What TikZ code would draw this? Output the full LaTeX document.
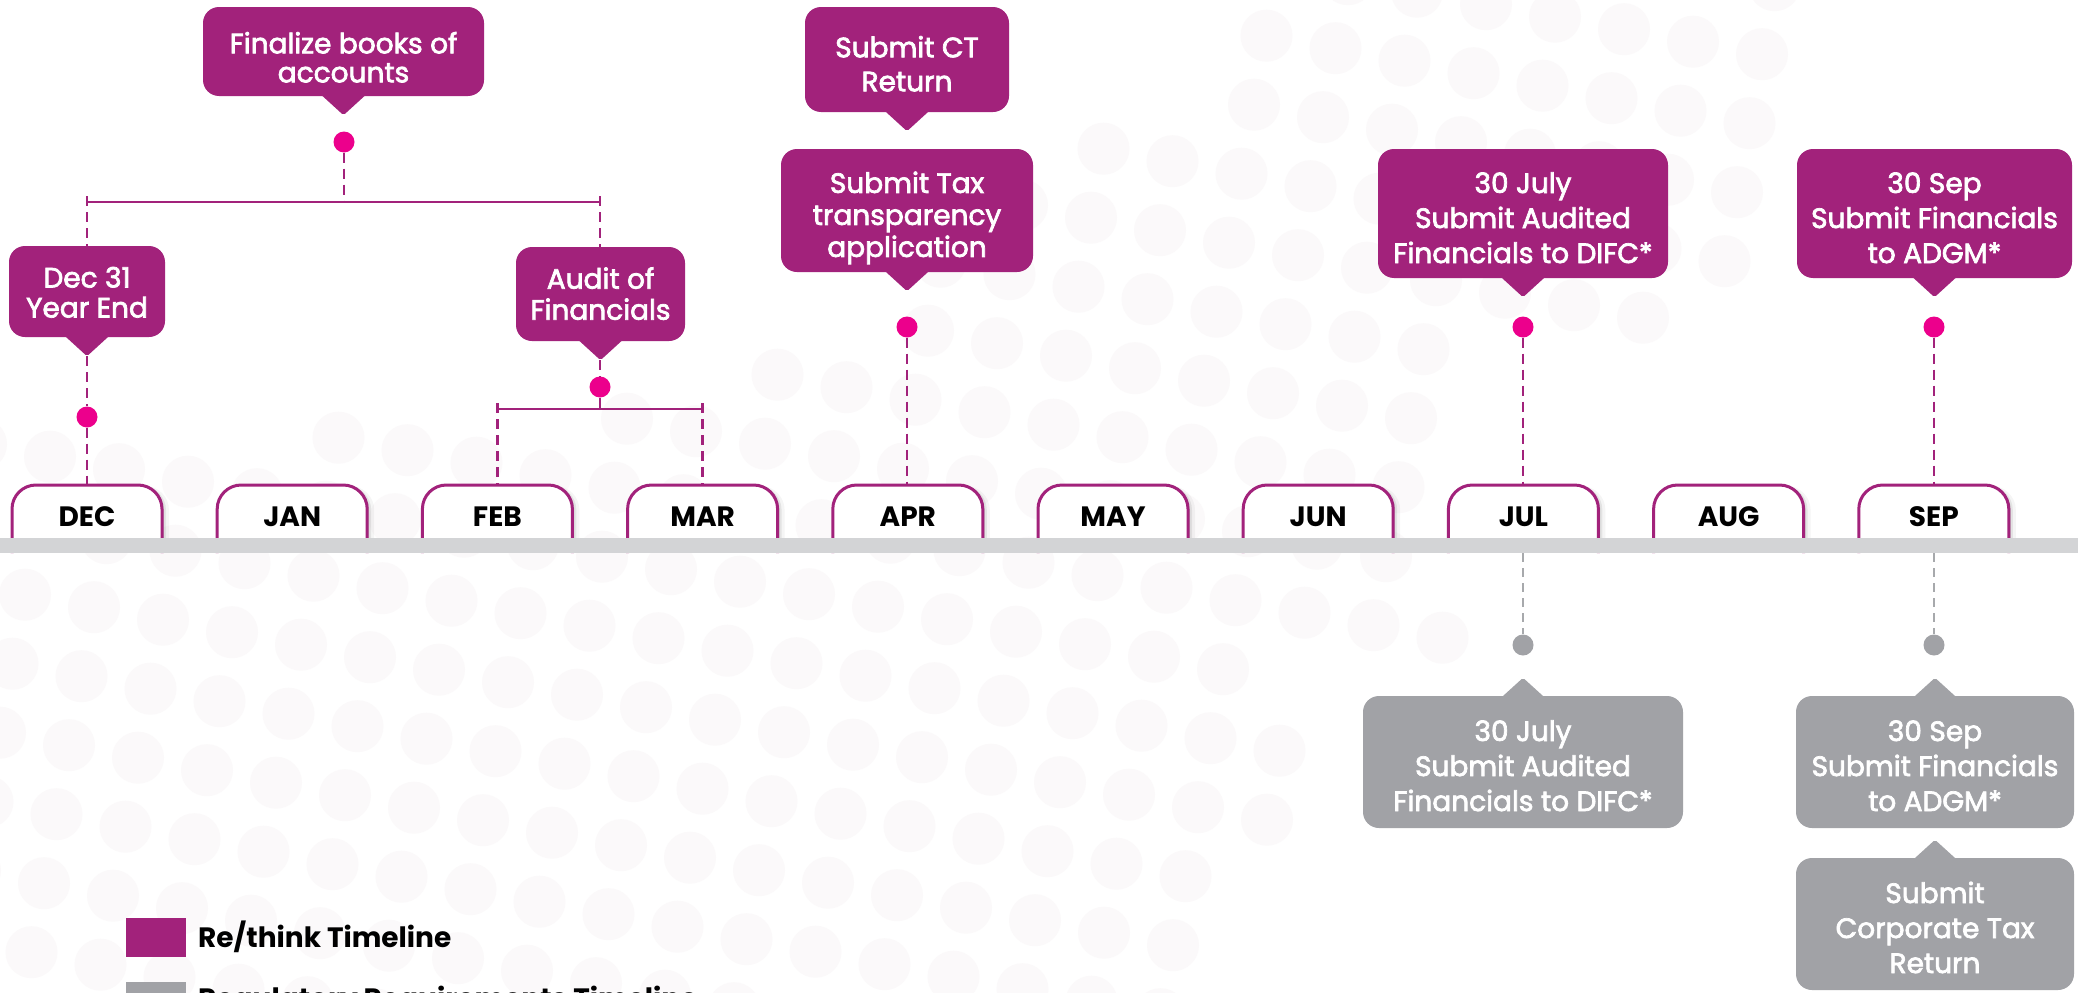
\documentclass[tikz,border=0pt]{standalone}
\usepackage{fontspec}
\setmainfont{Poppins}
\newfontfamily\boxfont{Poppins}[FakeBold=2.5]
\usetikzlibrary{calc}
\definecolor{rpurple}{RGB}{162,34,123}
\definecolor{rpink}{RGB}{236,0,140}
\definecolor{rgray}{RGB}{161,162,166}
\definecolor{bargray}{RGB}{211,212,214}
\definecolor{bgdot}{RGB}{251,249,250}
\definecolor{dashgray}{RGB}{167,169,172}
\newcommand\mybt[2]{\raisebox{-#1pt}[\height][\depth]{\begin{tabular}{@{}c@{}}#2\end{tabular}}}
\newcommand\mydownptr[2]{%
  \fill[#2,rounded corners=2pt] ($(#1.south)+(-23,-2)$) -- ($(#1.south)+(23,-2)$) -- ($(#1.south)+(0,19)$) -- cycle;
  \coordinate (#1tip) at ($(#1.south)+(0,19)$);}
\newcommand\myupptr[2]{%
  \fill[#2,rounded corners=2pt] ($(#1.north)+(-22,2)$) -- ($(#1.north)+(22,2)$) -- ($(#1.north)+(0,-18)$) -- cycle;
  \coordinate (#1tip) at ($(#1.north)+(0,-18)$);}
\begin{document}
\begin{tikzpicture}[x=1pt,y=-1pt,
  pbox/.style={fill=rpurple, rounded corners=16pt, inner sep=0pt, text=white},
  gbox/.style={fill=rgray, rounded corners=16pt, inner sep=0pt, text=white},
  bfnt/.style={font=\boxfont\fontsize{28}{#1}\selectfont},
  pdot/.style={circle, fill=rpink, minimum size=21pt, inner sep=0pt},
  gdot/.style={circle, fill=rgray, minimum size=21pt, inner sep=0pt},
  pdash/.style={draw=rpurple, line width=2.5pt, dash pattern=on 10pt off 6pt},
  gdash/.style={draw=dashgray, line width=2.3pt, dash pattern=on 9pt off 6pt},
  pline/.style={draw=rpurple, line width=2.5pt},
  mlab/.style={font=\bfseries\fontsize{28}{34}\selectfont, text=black, inner sep=0pt, anchor=base},
  lgtext/.style={font=\bfseries\fontsize{28}{32}\selectfont, text=black, inner sep=0pt, anchor=base west},
]
\useasboundingbox (0,0) rectangle (2078,993);
\clip (0,0) rectangle (2078,993);
\fill[white] (0,0) rectangle (2078,993);

% background dot pattern
\foreach \i in {-2,...,25}{
  \foreach \j in {-14,...,6}{
    \pgfmathsetmacro\px{25+69*(\i)-12.5*(\j)}
    \pgfmathsetmacro\py{594.7+12.5*(\i)+69*(\j)}
    \pgfmathsetmacro\yt{(\px<600)?430:((\px<640)?(430-0.5*(\px-600)):((\px<700)?(410-0.6333*(\px-640)):((\px<780)?372:((\px<860)?(372-0.525*(\px-780)):((\px<940)?(330-(\px-860)):((\px<1000)?(250-0.8333*(\px-940)):((\px<1100)?(200-0.55*(\px-1000)):((\px<1200)?(145-0.05*(\px-1100)):((\px<1250)?(140-3.4*(\px-1200)):(-100))))))))))}
    \pgfmathsetmacro\xr{(\py<130)?1800:((\py<270)?1760:((\py<335)?1690:((\py<600)?1440:((\py<680)?1470:((\py<860)?1290:1200)))))}
    \pgfmathparse{and(and(\py>\yt,\px<\xr),and(and(\py>-28,\py<1019),\px>-26))}
    \ifdim\pgfmathresult pt>0.5pt
      \fill[bgdot] (\px,\py) circle[radius=26pt];
    \fi
  }
}

% month tabs
\foreach \m/\xx in {DEC/87,JAN/292.2,FEB/497.4,MAR/702.6,APR/907.8,MAY/1113,JUN/1318.2,JUL/1523.4,AUG/1728.6,SEP/1933.8}{
  \foreach \s/\o in {2/0.10,4/0.07,7/0.04}{
    \fill[black,opacity=\o,rounded corners=24pt] (\xx-75+\s,552) -- (\xx-75+\s,486) -- (\xx+75+\s,486) -- (\xx+75+\s,552);
  }
  \filldraw[fill=white,draw=rpurple,line width=3pt,rounded corners=24pt] (\xx-75,553) -- (\xx-75,485) -- (\xx+75,485) -- (\xx+75,553);
  \coordinate (tab\m) at (\xx,485);
  \node[mlab] (m\m) at (\xx,526) {\m};
}

% timeline bar
\fill[bargray] (0,538) rectangle (2078,553);

% purple boxes
\node[pbox,bfnt=29,minimum width=281pt,minimum height=89pt] (fin) at (343.5,51.5) {\mybt{10}{Finalize books of\\accounts}};
\node[pbox,bfnt=30,minimum width=156pt,minimum height=91pt] (dec) at (87,291.5) {\mybt{5}{Dec 31\\Year End}};
\node[pbox,bfnt=31,minimum width=169pt,minimum height=94pt] (aud) at (600.5,294) {\mybt{4}{Audit of\\Financials}};
\node[pbox,bfnt=34,minimum width=204pt,minimum height=105pt] (ct) at (907,59.5) {\mybt{8}{Submit CT\\Return}};
\node[pbox,bfnt=32,minimum width=252pt,minimum height=123pt] (tax) at (907,210.5) {\mybt{8}{Submit Tax\\transparency\\application}};
\node[pbox,bfnt=35,minimum width=290pt,minimum height=129pt] (jul) at (1523,213.5) {\mybt{7.5}{30 July\\Submit Audited\\Financials to DIFC*}};
\node[pbox,bfnt=35,minimum width=275pt,minimum height=129pt] (sep) at (1934.5,213.5) {\mybt{7.5}{30 Sep\\Submit Financials\\to ADGM*}};
\mydownptr{fin}{rpurple}
\mydownptr{dec}{rpurple}
\mydownptr{aud}{rpurple}
\mydownptr{ct}{rpurple}
\mydownptr{tax}{rpurple}
\mydownptr{jul}{rpurple}
\mydownptr{sep}{rpurple}

% gray boxes
\node[gbox,bfnt=35,minimum width=320pt,minimum height=132pt] (gjul) at (1523,762) {\mybt{7}{30 July\\Submit Audited\\Financials to DIFC*}};
\node[gbox,bfnt=35,minimum width=278pt,minimum height=132pt] (gsep) at (1935,762) {\mybt{7}{30 Sep\\Submit Financials\\to ADGM*}};
\node[gbox,bfnt=35,minimum width=278pt,minimum height=132pt] (gct) at (1935,924) {\mybt{7}{Submit\\Corporate Tax\\Return}};
\myupptr{gjul}{rgray}
\myupptr{gsep}{rgray}
\myupptr{gct}{rgray}

% dots
\node[pdot] (dfin) at (344,142) {};
\node[pdot] (ddec) at (87,417) {};
\node[pdot] (daud) at (600,387) {};
\node[pdot] (dtax) at (907,327) {};
\node[pdot] (djul) at (1523,327) {};
\node[pdot] (dsep) at (1934,327) {};
\node[gdot] (gdjul) at (1523,645) {};
\node[gdot] (gdsep) at (1934,645) {};

% bracket coordinates
\coordinate (b1l) at (87,202);
\coordinate (b1r) at (600,202);
\coordinate (b1m) at (344,202);
\coordinate (b1lt) at (87,196);
\coordinate (b1rt) at (600,196);
\coordinate (b2l) at (497.4,409);
\coordinate (b2r) at (702.6,409);
\coordinate (b2m) at (600,409);
\coordinate (b2lt) at (497.4,403);
\coordinate (b2rt) at (702.6,403);
\coordinate (barJ) at (1523,553);
\coordinate (barS) at (1934,553);

% connectors
\draw[pline] (b1l) -- (b1r);
\draw[pdash] (dfin.south) -- (b1m);
\draw[pdash] (b1lt) -- (b1lt |- dec.north);
\draw[pdash] (b1rt) -- (b1rt |- aud.north);
\draw[pdash] (dectip) -- (ddec.north);
\draw[pdash] (ddec.south) -- (ddec.south |- tabDEC);
\draw[pdash] (daud |- audtip) -- (daud.north);
\draw[pdash] (daud.south) -- (b2m);
\draw[pline] (b2l) -- (b2r);
\draw[pdash] (b2lt) -- (tabFEB);
\draw[pdash] (b2rt) -- (tabMAR);
\draw[pdash] (dtax.south) -- (dtax.south |- tabAPR);
\draw[pdash] (djul.south) -- (djul.south |- tabJUL);
\draw[pdash] (dsep.south) -- (dsep.south |- tabSEP);
\draw[gdash] (barJ) -- (gdjul.north);
\draw[gdash] (barS) -- (gdsep.north);

% legend
\node[fill=rpurple, minimum width=60pt, minimum height=39pt, inner sep=0pt] (lgp) at (156,937.5) {};
\node[lgtext] (lgpt) at (198,947) {Re/think Timeline};
\node[fill=rgray, minimum width=60pt, minimum height=48pt, inner sep=0pt] (lgg) at (156,1006) {};
\node[lgtext] (lggt) at (198,1008) {Regulatory Requirements Timeline};
\end{tikzpicture}
\end{document}
